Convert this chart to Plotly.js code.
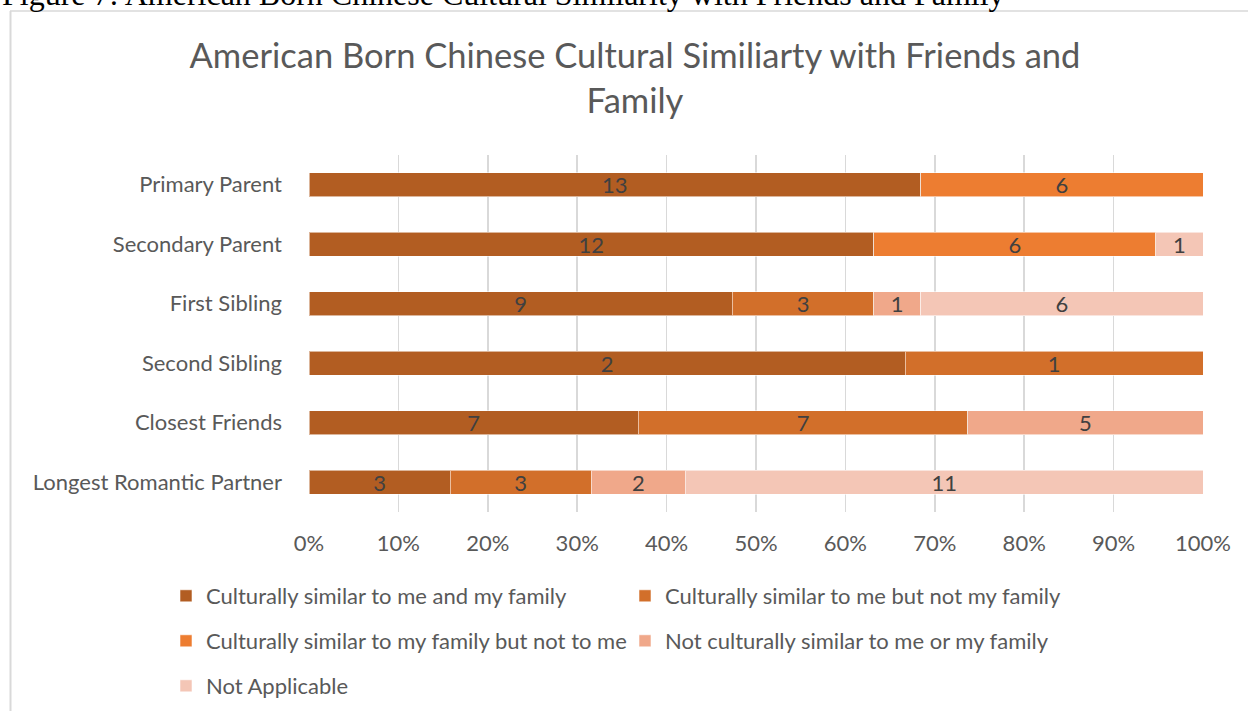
<!DOCTYPE html>
<html>
<head>
<meta charset="utf-8">
<script src="https://cdn.plot.ly/plotly-3.0.1.min.js"></script>
<style>
  html, body { margin: 0; padding: 0; background: #ffffff; }
  #chart { width: 1248px; height: 711px; }
</style>
</head>
<body>
<div id="chart"></div>
<script>
// ---- data ----
const categories = ["Primary Parent", "Secondary Parent", "First Sibling", "Second Sibling", "Closest Friends", "Longest Romantic Partner"];
const seriesNames = [
  "Culturally similar to me and my family",
  "Culturally similar to me but not my family",
  "Culturally similar to my family but not to me",
  "Not culturally similar to me or my family",
  "Not Applicable"
];
const similarMeAndFamily   = [13, 12, 9, 2, 7, 3];
const similarMeNotFamily   = [null, null, 3, 1, 7, 3];
const similarFamilyNotMe   = [6, 6, null, null, null, null];
const notSimilar           = [null, null, 1, null, 5, 2];
const notApplicable        = [null, 1, 6, null, null, 11];
const xTickVals  = [0, 10, 20, 30, 40, 50, 60, 70, 80, 90, 100];
const xTickText  = ["0%", "10%", "20%", "30%", "40%", "50%", "60%", "70%", "80%", "90%", "100%"];

// ---- styling ----
const colors = ["#B25D22", "#D26F2A", "#ED7D31", "#F0A88A", "#F4C6B6"];
const W = 1248, H = 711;
const PL = 309, PR = 1203, PT = 155, PB = 512;
const px2x = p => (p - PL) / (PR - PL);
const py2y = p => (PB - p) / (PB - PT);
const FONT = "Lato, 'Open Sans', sans-serif";

const seriesValues = [similarMeAndFamily, similarMeNotFamily, similarFamilyNotMe, notSimilar, notApplicable];
const legendIds = ["legend", "legend", "legend2", "legend2", "legend3"];

const traces = seriesValues.map((vals, i) => ({
  type: "bar",
  orientation: "h",
  name: seriesNames[i],
  y: categories,
  x: vals,
  text: vals.map(v => (v === null ? "" : String(v))),
  textposition: "inside",
  insidetextanchor: "middle",
  textangle: 0,
  constraintext: "none",
  textfont: { family: FONT, size: 22, color: "#404040" },
  marker: { color: colors[i], line: { color: "rgba(255,255,255,0.55)", width: 1 } },
  legend: legendIds[i],
  hoverinfo: "name+text"
}));

const legendBase = {
  orientation: "h",
  xanchor: "left",
  yanchor: "middle",
  x: px2x(166),
  font: { family: FONT, size: 22, color: "#595959" },
  entrywidth: 414,
  entrywidthmode: "pixels",
  bgcolor: "rgba(0,0,0,0)",
  traceorder: "normal"
};

const layout = {
  width: W, height: H,
  paper_bgcolor: "#ffffff",
  plot_bgcolor: "#ffffff",
  margin: { l: PL, r: W - PR, t: PT, b: H - PB, pad: 0, autoexpand: false },
  barmode: "stack",
  barnorm: "percent",
  bargap: 0.6,
  title: {
    text: "American Born Chinese Cultural Similiarty with Friends and<br>Family",
    font: { family: FONT, size: 34.5, color: "#595959" },
    x: 635 / W, xanchor: "center",
    y: 1 - 68 / H, yanchor: "middle", yref: "container"
  },
  xaxis: {
    range: [0, 100],
    tickmode: "array",
    tickvals: xTickVals,
    ticktext: xTickText,
    showgrid: true,
    gridcolor: "#d9d9d9",
    gridwidth: 1.5,
    zeroline: false,
    showline: false,
    ticks: "",
    ticklabelstandoff: 16,
    tickfont: { family: FONT, size: 22, color: "#595959" },
    fixedrange: true
  },
  yaxis: {
    autorange: "reversed",
    showgrid: false,
    zeroline: false,
    showline: false,
    ticks: "",
    ticklabelstandoff: 26,
    tickfont: { family: FONT, size: 22, color: "#595959" },
    fixedrange: true
  },
  showlegend: true,
  legend: Object.assign({}, legendBase, { y: py2y(596) }),
  legend2: Object.assign({}, legendBase, { y: py2y(641) }),
  legend3: Object.assign({}, legendBase, { y: py2y(686) }),
  shapes: [
    { type: "line", xref: "paper", yref: "paper", x0: px2x(10), x1: px2x(1260), y0: py2y(11), y1: py2y(11),
      line: { color: "#d9d9d9", width: 1.5 } },
    { type: "line", xref: "paper", yref: "paper", x0: px2x(10.5), x1: px2x(10.5), y0: py2y(11), y1: py2y(720),
      line: { color: "#d9d9d9", width: 2 } }
  ],
  annotations: [
    { text: "Figure 7: American Born Chinese Cultural Similarity with Friends and Family",
      xref: "paper", yref: "paper", x: px2x(0), y: py2y(14), xanchor: "left", yanchor: "bottom",
      showarrow: false, font: { family: "'Liberation Serif', 'Times New Roman', serif", size: 32, color: "#000000" } }
  ]
};

Plotly.newPlot("chart", traces, layout, { displayModeBar: false, staticPlot: true });
</script>
</body>
</html>
